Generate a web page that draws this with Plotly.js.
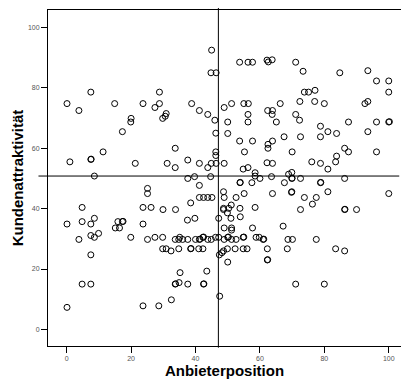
<!DOCTYPE html>
<html>
<head>
<meta charset="utf-8">
<script src="https://cdn.plot.ly/plotly-3.0.1.min.js"></script>
<style>html,body{margin:0;padding:0;background:#fff;}#chart{width:401px;height:385px;}</style>
</head>
<body>
<div id="chart"></div>
<script>
// Anbieterposition (x) and Kundenattraktivität (y)
const anbieterposition = [
45.0,62.2,62.6,63.8,53.7,56.3,57.7,71.1,93.5,73.4,44.8,46.4,84.8,96.2,100.0,77.1,
7.5,28.8,73.8,75.1,100.0,72.4,77.0,0.1,14.9,23.7,28.8,38.8,51.2,55.0,56.4,66.3,80.0,92.6,93.5,
27.4,48.9,3.8,41.2,62.4,63.9,30.9,43.8,56.3,63.8,71.1,30.6,29.8,20.0,46.0,72.3,
19.9,50.0,56.3,65.1,87.5,96.2,100.0,100.2,78.8,17.3,46.3,50.0,81.1,83.8,93.5,
67.5,72.6,78.8,53.7,57.7,63.9,62.5,33.7,62.5,86.3,46.3,11.3,55.2,70.0,87.5,96.2,
46.3,83.8,7.5,7.6,37.6,1.0,76.1,83.5,62.2,21.3,31.2,41.2,44.9,46.4,48.9,63.9,78.8,
33.7,43.8,56.3,54.8,81.1,58.5,68.9,69.9,8.6,58.5,39.7,44.7,63.6,37.6,60.0,69.9,70.0,72.6,86.3,
53.8,53.9,57.5,67.6,78.8,78.9,41.2,25.1,48.7,69.9,81.1,25.1,55.1,63.9,100.0,69.8,
41.2,42.5,43.8,45.1,48.9,52.6,73.8,77.5,38.5,51.1,76.3,4.8,23.7,26.2,58.5,
48.7,50.3,53.8,29.9,33.8,48.7,72.6,86.3,86.4,90.0,49.9,53.9,8.6,39.8,47.2,51.0,37.5,
4.8,15.9,17.3,17.5,0.1,7.5,23.7,67.2,15.1,16.4,57.7,48.9,51.2,51.2,9.9,7.5,
8.6,19.9,27.4,29.8,35.1,42.3,42.5,46.2,47.2,50.0,50.2,54.8,55.0,58.8,59.8,
3.8,25.1,33.7,34.8,36.0,37.6,40.0,41.2,41.4,43.8,44.9,48.9,51.2,52.6,61.0,61.2,68.7,70.1,77.5,
29.8,30.9,34.8,38.5,38.6,41.0,42.3,49.9,52.3,54.8,56.0,62.3,68.5,83.5,32.4,86.3,48.7,48.2,7.5,47.4,
62.3,62.4,50.0,43.5,35.2,34.9,4.8,7.5,33.7,33.8,37.6,42.5,42.6,71.1,80.0,47.5,32.5,23.7,28.6,0.1
];
const kundenattraktivitaet = [
92.5,89.2,88.6,89.3,88.5,88.5,88.5,88.5,85.7,85.5,85.0,85.0,85.0,82.3,82.3,79.2,
78.6,78.6,78.6,78.6,78.6,75.5,75.5,74.8,74.8,74.8,74.8,74.8,74.8,74.8,74.8,74.8,74.8,74.8,75.5,
73.5,73.5,72.5,72.5,72.5,72.5,71.5,71.2,71.2,71.2,71.2,70.6,69.9,69.9,69.3,69.3,
68.7,68.7,68.7,68.7,68.7,68.7,68.7,68.8,67.3,65.5,65.0,64.9,65.5,64.9,65.5,
63.8,63.8,63.8,62.4,62.4,62.4,61.3,60.0,60.0,60.0,58.8,58.8,58.8,58.8,58.8,58.8,
57.6,57.4,56.3,56.4,56.1,55.5,55.5,55.5,55.2,55.0,55.0,55.0,55.0,55.0,55.0,55.0,55.0,
53.6,53.6,53.6,53.1,53.1,51.9,51.4,52.0,50.8,50.8,50.6,50.6,50.6,50.0,50.0,50.0,50.1,50.0,50.0,
48.6,48.7,48.6,48.6,48.6,48.7,47.7,46.7,45.6,45.6,45.6,45.0,45.0,45.0,45.0,45.4,
43.7,43.7,43.7,43.7,43.7,43.7,43.7,43.7,41.9,41.2,41.5,40.4,40.4,40.4,40.4,
40.1,40.1,40.1,39.7,39.7,39.7,39.7,39.7,39.8,39.7,38.6,37.3,36.8,36.8,36.8,36.8,36.2,
35.7,35.7,35.7,35.8,34.9,34.9,34.9,34.2,33.6,33.6,33.6,33.6,33.6,32.9,31.8,31.1,
30.5,30.5,30.5,30.5,30.5,30.5,30.6,30.5,30.5,30.5,30.6,30.5,30.6,30.5,30.5,
29.8,29.8,29.8,29.8,29.8,29.8,29.8,29.8,29.9,29.8,29.8,29.8,29.8,29.8,29.8,29.9,29.8,29.8,29.8,
26.7,26.7,26.7,26.7,26.8,26.7,26.7,26.7,26.7,26.7,26.7,26.7,26.7,26.7,26.0,26.0,26.0,25.4,24.7,24.7,
23.0,23.1,22.3,19.3,18.8,15.5,15.0,15.0,15.0,15.1,15.0,15.0,15.1,15.0,15.0,11.0,9.8,7.8,7.8,7.3
];
const xTicks = [0, 20, 40, 60, 80, 100];
const yTicks = [0, 20, 40, 60, 80, 100];
const splitX = 47.1;
const splitY = 50.8;

const trace = {
  type: 'scatter', mode: 'markers',
  x: anbieterposition, y: kundenattraktivitaet,
  marker: {symbol: 'circle-open', size: 6, color: '#000', line: {width: 1, color: '#000'}},
  hoverinfo: 'x+y', cliponaxis: false
};

const axisCommon = {
  showgrid: false, zeroline: false, showline: true, mirror: true,
  linecolor: '#000', linewidth: 1, ticks: 'outside', ticklen: 6,
  tickcolor: '#000', tickfont: {family: 'Liberation Sans, Arial, sans-serif', size: 7, color: '#555'},
  tickmode: 'array'
};

const layout = {
  width: 401, height: 385,
  margin: {l: 48, r: 0, t: 10, b: 39},
  paper_bgcolor: '#fff', plot_bgcolor: '#fff',
  showlegend: false,
  xaxis: Object.assign({}, axisCommon, {
    range: [-5.8, 103.8], tickvals: xTicks, ticktext: xTicks.map(String),
    title: {text: 'Anbieterposition', standoff: 0,
      font: {family: 'Liberation Sans, Arial, sans-serif', size: 15, color: '#000', weight: 'bold'}}
  }),
  yaxis: Object.assign({}, axisCommon, {
    range: [-5.5, 105.8], tickvals: yTicks, ticktext: yTicks.map(String),
    title: {text: 'Kundenattraktivität', standoff: 0,
      font: {family: 'Liberation Sans, Arial, sans-serif', size: 15, color: '#000', weight: 'bold'}}
  }),
  shapes: [
    {type: 'line', xref: 'x', yref: 'paper', x0: splitX, x1: splitX, y0: -0.005, y1: 1.006,
     line: {color: '#000', width: 1}},
    {type: 'line', xref: 'paper', yref: 'y', x0: -0.027, x1: 0.995, y0: splitY, y1: splitY,
     line: {color: '#000', width: 1}}
  ]
};

Plotly.newPlot('chart', [trace], layout, {displayModeBar: false, staticPlot: true});
</script>
</body>
</html>
